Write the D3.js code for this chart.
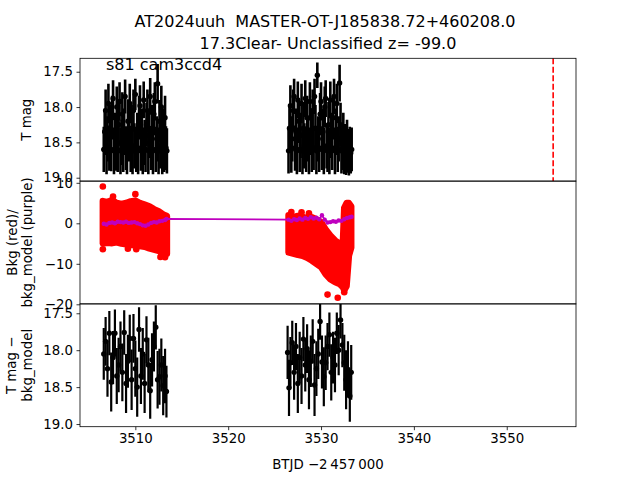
<!DOCTYPE html>
<html><head><meta charset="utf-8">
<script src="https://cdn.jsdelivr.net/npm/d3@7"></script>
<style>body{margin:0;background:#fff}svg{display:block;font-family:"DejaVu Sans",sans-serif}text{white-space:pre}</style>
</head><body>
<script>
// ---------- data ----------
const titleLines = ["AT2024uuh  MASTER-OT-J185838.72+460208.0", "17.3Clear- Unclassified z= -99.0"];
const annotation = "s81 cam3ccd4";
const xTicks = [3510, 3520, 3530, 3540, 3550];
const magTicks = [17.5, 18.0, 18.5, 19.0];
const bkgTicks = [10, 0, -10, -20];
const vlineT = [3555.0];

// panel 1: T mag with errors
const magTimeA = [3506.6,3506.7,3506.8,3506.9,3507.0,3507.1,3507.2,3507.3,3507.4,3507.5,3507.6,3507.7,3507.8,3507.9,3508.0,3508.1,3508.2,3508.3,3508.4,3508.5,3508.6,3508.7,3508.8,3508.9,3509.0,3509.1,3509.2,3509.3,3509.4,3509.5,3509.6,3509.7,3509.8,3509.9,3510.0,3510.1,3510.2,3510.3,3510.4,3510.5,3510.6,3510.7,3510.8,3510.9,3511.0,3511.1,3511.2,3511.3,3511.4,3511.5,3511.6,3511.7,3511.8,3511.9,3512.0,3512.1,3512.2,3512.3,3512.4,3512.5,3512.6,3512.7,3512.8,3512.9,3513.0,3513.1,3513.2,3513.3,3513.4];
const magA = [18.60,18.35,18.05,18.62,18.45,17.95,18.58,18.30,18.60,18.15,
  17.88,18.62,18.40,18.58,18.00,18.60,18.25,17.92,18.62,18.50,
  18.10,18.60,18.35,17.85,18.58,18.62,18.20,18.45,17.95,18.60,
  18.30,18.62,18.05,18.55,17.82,18.60,18.40,18.62,18.15,17.98,
  18.58,18.35,18.62,17.90,18.50,18.60,18.25,18.05,18.62,18.40,
  17.85,18.58,18.30,18.62,18.10,17.92,18.60,18.45,17.67,18.62,
  18.20,18.55,18.00,18.62,18.35,18.60,18.15,18.58,18.62];
const magErrA = [0.32,0.33,0.30,0.33,0.32,0.28,0.32,0.33,0.31,0.31,
  0.26,0.33,0.32,0.32,0.29,0.32,0.31,0.27,0.33,0.32,
  0.31,0.32,0.33,0.24,0.31,0.33,0.31,0.32,0.28,0.32,
  0.33,0.33,0.30,0.32,0.22,0.32,0.32,0.33,0.31,0.29,
  0.32,0.33,0.33,0.26,0.32,0.32,0.31,0.30,0.33,0.32,
  0.26,0.31,0.33,0.33,0.30,0.27,0.32,0.32,0.28,0.33,
  0.30,0.32,0.30,0.33,0.33,0.32,0.31,0.31,0.32];
const magTimeB = [3526.5,3526.6,3526.7,3526.8,3526.9,3527.0,3527.1,3527.2,3527.3,3527.4,3527.5,3527.6,3527.7,3527.8,3527.9,3528.0,3528.1,3528.2,3528.3,3528.4,3528.5,3528.6,3528.7,3528.8,3528.9,3529.0,3529.1,3529.2,3529.3,3529.4,3529.5,3529.6,3529.7,3529.8,3529.9,3530.0,3530.1,3530.2,3530.3,3530.4,3530.5,3530.6,3530.7,3530.8,3530.9,3531.0,3531.1,3531.2,3531.3,3531.4,3531.5,3531.6,3531.7,3531.8,3531.9,3532.0,3532.1,3532.2,3532.3,3532.4,3532.5,3532.6,3532.7,3532.8,3532.9,3533.0,3533.1,3533.2,3533.3];
const magB = [18.62,18.30,17.98,18.60,18.45,18.05,17.85,18.58,18.35,18.62,
  17.90,18.20,18.60,18.40,17.95,18.62,18.30,18.55,17.88,18.60,
  18.15,18.45,18.62,17.92,18.35,18.60,18.05,18.58,17.85,18.30,
  18.62,17.55,18.45,18.60,18.10,17.92,18.58,18.35,18.62,18.00,
  17.88,18.55,18.60,18.25,18.62,17.90,18.40,18.58,18.15,17.85,
  18.62,18.35,17.95,18.60,18.45,17.66,18.25,18.62,18.58,18.40,
  18.65,18.55,18.68,18.50,18.62,18.70,18.58,18.65,18.60];
const magErrB = [0.32,0.32,0.29,0.33,0.32,0.30,0.25,0.32,0.33,0.33,
  0.26,0.31,0.32,0.32,0.28,0.33,0.33,0.32,0.26,0.32,
  0.31,0.32,0.33,0.27,0.33,0.32,0.30,0.31,0.25,0.33,
  0.33,0.18,0.32,0.32,0.30,0.27,0.31,0.33,0.33,0.29,
  0.26,0.32,0.32,0.32,0.33,0.26,0.32,0.31,0.31,0.25,
  0.33,0.33,0.28,0.32,0.32,0.26,0.31,0.32,0.31,0.32,
  0.30,0.31,0.28,0.32,0.31,0.27,0.30,0.29,0.31];

// panel 2: background (red envelope + outliers) and model (purple)
const bkgTimeA = [3506.5,3507.0,3507.5,3508.0,3508.5,3509.0,3509.5,3510.0,3510.5,3511.0,3511.5,3512.0,3512.5,3513.0,3513.4];
const bkgUpA   = [5.5,5.2,5.8,5.0,4.8,5.0,5.4,5.6,5.0,4.6,4.2,3.5,3.0,2.2,1.8];
const bkgLoA   = [-5.0,-4.8,-4.9,-4.7,-5.0,-5.2,-5.3,-5.5,-5.6,-5.8,-6.2,-6.5,-6.8,-7.3,-7.5];
const bkgTimeB = [3526.5,3527.0,3527.5,3528.0,3528.5,3529.0,3529.5,3530.0,3530.5,3531.0,3531.5,3532.0,3532.35,3532.5,3532.75,3533.0,3533.25];
const bkgUpB   = [2.0,1.5,1.8,1.6,1.3,1.5,1.0,0.3,-1.5,-3.0,-4.2,-5.0,-5.2,3.8,5.0,5.0,4.2];
const bkgLoB   = [-7.2,-7.5,-7.8,-8.0,-8.5,-9.2,-10.0,-10.8,-12.6,-13.8,-14.5,-15.0,-15.8,-16.5,-15.5,-8.0,-6.0];
const bkgOutT  = [3506.5,3507.6,3510.0,3506.5,3509.2,3510.1,3512.7,3513.2,3526.8,3527.9,3528.7,3530.7,3531.8,3532.5];
const bkgOutV  = [9.1,6.6,7.2,-6.4,-6.3,-6.4,-8.3,-8.4,2.8,2.7,2.5,-17.6,-18.4,-17.0];
const modelT = [3506.6,3506.9,3507.2,3507.5,3507.8,3508.1,3508.4,3508.7,3509.0,3509.3,3509.6,3509.9,3510.2,3510.5,3510.8,3511.1,3511.4,3511.7,3512.0,3512.3,3512.6,3512.9,3513.2,3513.35,
                3526.5,3526.8,3527.1,3527.4,3527.7,3528.0,3528.3,3528.6,3528.9,3529.2,3529.5,3529.8,3530.1,3530.4,3530.7,3531.0,3531.3,3531.6,3531.9,3532.2,3532.5,3532.8,3533.1,3533.3];
const modelV = [-0.1,-0.3,0.1,0.2,0.0,0.4,0.3,0.2,0.4,0.1,0.2,0.3,0.0,-0.2,-0.5,-0.6,-0.3,0.1,0.3,0.2,0.5,0.6,0.8,1.1,
                0.9,0.6,1.0,0.8,1.2,0.9,1.3,1.1,1.5,1.2,1.4,1.0,2.0,0.9,0.2,0.3,0.5,0.4,0.7,0.6,1.0,1.3,1.5,1.6];

// panel 3: T mag - bkg_model
const subTimeA = [3506.60,3506.80,3507.00,3507.20,3507.40,3507.60,3507.80,3508.00,3508.20,3508.40,3508.60,3508.80,3509.00,3509.20,3509.40,3509.60,3509.80,3510.00,3510.20,3510.40,3510.60,3510.80,3511.00,3511.20,3511.40,3511.60,3511.80,3512.00,3512.20,3512.40,3512.60,3512.80,3513.00,3513.20,3513.35];
const subA = [18.05,17.88,18.25,17.77,18.43,18.10,17.77,18.35,18.20,17.95,18.30,17.76,18.45,18.15,17.84,18.40,17.84,18.25,18.50,17.72,18.35,18.05,18.45,17.86,18.20,18.55,18.13,17.95,17.69,18.40,18.36,18.20,18.48,18.35,18.56];
const subErrA = [0.35,0.33,0.38,0.30,0.40,0.36,0.32,0.38,0.37,0.34,0.39,0.30,0.40,0.36,0.32,0.41,0.33,0.38,0.40,0.30,0.38,0.35,0.40,0.32,0.37,0.38,0.36,0.34,0.30,0.39,0.38,0.36,0.40,0.37,0.35];
const subTimeB = [3526.40,3526.55,3526.70,3526.90,3527.10,3527.30,3527.50,3527.70,3527.90,3528.10,3528.30,3528.50,3528.70,3528.90,3529.10,3529.30,3529.50,3529.70,3529.90,3530.10,3530.30,3530.50,3530.70,3530.90,3531.10,3531.30,3531.50,3531.70,3531.90,3532.10,3532.30,3532.50,3532.70,3532.90,3533.10,3533.25];
const subB = [18.03,18.51,18.17,17.90,18.30,17.95,18.45,18.10,18.35,17.85,18.20,17.98,18.40,18.15,17.88,18.47,18.25,18.05,17.61,18.16,18.36,18.17,17.95,17.79,18.30,18.10,18.20,17.77,18.00,17.59,17.93,18.17,18.40,18.26,18.62,18.30];
const subErrB = [0.36,0.38,0.35,0.30,0.37,0.32,0.40,0.35,0.38,0.30,0.36,0.33,0.40,0.35,0.30,0.42,0.37,0.34,0.25,0.36,0.40,0.37,0.32,0.30,0.38,0.35,0.37,0.28,0.34,0.25,0.30,0.38,0.40,0.38,0.35,0.37];

// ---------- layout ----------
const W = 640, H = 480;
const L = 80, R = 576;
const panels = [{top: 58.3, bot: 181.1}, {top: 181.1, bot: 303.9}, {top: 303.9, bot: 426.7}];
const FS = 13.33;

const svg = d3.select("body").append("svg").attr("width", W).attr("height", H);
svg.append("rect").attr("width", W).attr("height", H).attr("fill", "#fff");

const x = d3.scaleLinear().domain([3504.04, 3557.46]).range([L, R]);
const y1 = d3.scaleLinear().domain([17.310, 19.048]).range([panels[0].top, panels[0].bot]);
const y2 = d3.scaleLinear().domain([10.42, -19.9]).range([panels[1].top, panels[1].bot]);
const y3 = d3.scaleLinear().domain([17.373, 19.036]).range([panels[2].top, panels[2].bot]);

panels.forEach((p, i) => {
  svg.append("clipPath").attr("id", "clip" + i).append("rect")
    .attr("x", L).attr("y", p.top).attr("width", R - L).attr("height", p.bot - p.top);
});

function zip(t, v, e) { return t.map((d, i) => ({t: d, v: v[i], e: e ? e[i] : 0})); }

function errorbars(g, data, y, w) {
  g.selectAll("line.eb").data(data).join("line").attr("class", "eb")
    .attr("x1", d => x(d.t)).attr("x2", d => x(d.t))
    .attr("y1", d => y(d.v - d.e)).attr("y2", d => y(d.v + d.e))
    .attr("stroke", "#000").attr("stroke-width", w);
  g.selectAll("circle.mk").data(data).join("circle").attr("class", "mk")
    .attr("cx", d => x(d.t)).attr("cy", d => y(d.v)).attr("r", 2.7).attr("fill", "#000");
}

// panel 1
const g1 = svg.append("g").attr("clip-path", "url(#clip0)");
errorbars(g1.append("g"), zip(magTimeA, magA, magErrA).concat(zip(magTimeB, magB, magErrB)), y1, 2.6);
g1.selectAll("line.vl").data(vlineT).join("line").attr("class", "vl")
  .attr("x1", d => x(d)).attr("x2", d => x(d))
  .attr("y1", panels[0].top).attr("y2", panels[0].bot)
  .attr("stroke", "red").attr("stroke-width", 1.6).attr("stroke-dasharray", "6,2.5");

// panel 2
const g2 = svg.append("g").attr("clip-path", "url(#clip1)");
const area = d3.area().x(d => x(d.t)).y0(d => y2(d.lo)).y1(d => y2(d.up));
[[bkgTimeA, bkgUpA, bkgLoA], [bkgTimeB, bkgUpB, bkgLoB]].forEach(([t, u, l]) => {
  g2.append("path").datum(t.map((d, i) => ({t: d, up: u[i], lo: l[i]})))
    .attr("d", area).attr("fill", "red").attr("stroke", "red")
    .attr("stroke-width", 6.5).attr("stroke-linejoin", "round");
});
g2.selectAll("circle.out").data(zip(bkgOutT, bkgOutV)).join("circle").attr("class", "out")
  .attr("cx", d => x(d.t)).attr("cy", d => y2(d.v)).attr("r", 3.3).attr("fill", "red");
const modelData = zip(modelT, modelV);
g2.append("path").datum(modelData)
  .attr("d", d3.line().x(d => x(d.t)).y(d => y2(d.v)))
  .attr("fill", "none").attr("stroke", "#bf00bf").attr("stroke-width", 1.8);
g2.selectAll("circle.md").data(modelData).join("circle").attr("class", "md")
  .attr("cx", d => x(d.t)).attr("cy", d => y2(d.v)).attr("r", 2.2).attr("fill", "#bf00bf");

// panel 3
const g3 = svg.append("g").attr("clip-path", "url(#clip2)");
errorbars(g3.append("g"), zip(subTimeA, subA, subErrA).concat(zip(subTimeB, subB, subErrB)), y3, 2.2);

// axes
function styleAxis(g) {
  g.select(".domain").remove();
  g.selectAll(".tick line").attr("stroke", "#000").attr("stroke-width", 0.8);
  g.selectAll(".tick text").attr("font-size", FS).attr("fill", "#000")
    .attr("font-family", "DejaVu Sans, sans-serif");
}
const fmtMag = d3.format(".1f");
const fmtBkg = d => d < 0 ? "\u2212" + Math.abs(d) : String(d);
[[y1, magTicks, fmtMag], [y2, bkgTicks, fmtBkg], [y3, magTicks, fmtMag]].forEach(([sc, tk, f]) => {
  svg.append("g").attr("transform", `translate(${L},0)`)
    .call(d3.axisLeft(sc).tickValues(tk).tickFormat(f).tickSize(3.5).tickPadding(3.5))
    .call(styleAxis);
});
svg.append("g").attr("transform", `translate(0,${panels[2].bot})`)
  .call(d3.axisBottom(x).tickValues(xTicks).tickFormat(d3.format("d")).tickSize(3.5).tickPadding(3.5))
  .call(styleAxis);

// frames
panels.forEach(p => {
  svg.append("rect").attr("x", L).attr("y", p.top).attr("width", R - L).attr("height", p.bot - p.top)
    .attr("fill", "none").attr("stroke", "#000").attr("stroke-width", 0.8);
});

// texts
const txt = (s, xx, yy, opt = {}) => svg.append("text").text(s).attr("x", xx).attr("y", yy)
  .attr("font-size", opt.fs || FS).attr("text-anchor", opt.anchor || "middle")
  .attr("fill", "#000").attr("font-family", "DejaVu Sans, sans-serif")
  .attr("transform", opt.rot ? `rotate(-90,${xx},${yy})` : null)
  .attr("dominant-baseline", opt.db || null);

txt(titleLines[0], 325, 27, {fs: 16});
txt(titleLines[1], 328, 48.5, {fs: 16});
txt(annotation, 106, 70, {anchor: "start", fs: 16});

const ym = p => (p.top + p.bot) / 2;
txt("T mag", 27, ym(panels[0]), {rot: true, db: "central"});
txt("Bkg (red)/", 12, ym(panels[1]), {rot: true, db: "central"});
txt("bkg_model (purple)", 27.5, ym(panels[1]), {rot: true, db: "central"});
txt("T mag \u2212", 12, ym(panels[2]), {rot: true, db: "central"});
txt("bkg_model", 27.5, ym(panels[2]), {rot: true, db: "central"});
txt("BTJD \u22122\u2009457\u2009000", 328, 469);
</script>
</body></html>
